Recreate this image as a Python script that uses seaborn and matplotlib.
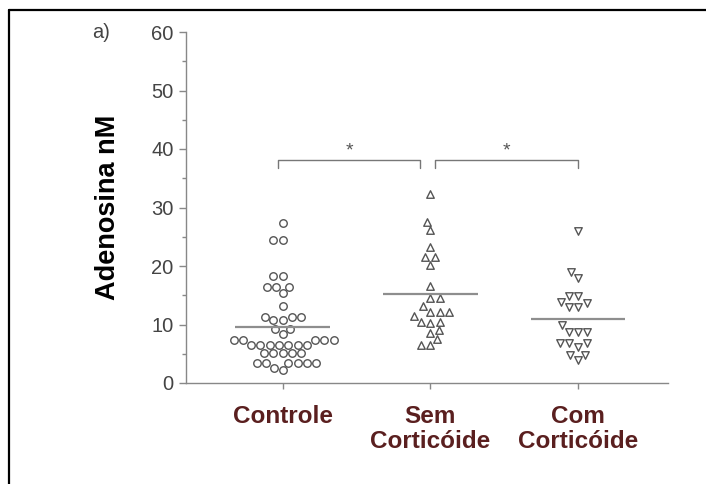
import numpy as np
import pandas as pd
import seaborn as sns
import matplotlib
matplotlib.use("Agg")
import matplotlib.pyplot as plt
from matplotlib.ticker import MultipleLocator
from matplotlib.lines import Line2D

categories = ["Controle", "Sem\nCorticóide", "Com\nCorticóide"]
controle = [27.3, 24.4, 24.4, 18.3, 18.3, 16.4, 16.4, 16.4, 15.3, 13.2,
            11.3, 11.3, 11.3, 10.8, 10.8, 9.2, 9.2, 8.3,
            7.3, 7.3, 7.3, 7.3, 7.3,
            6.5, 6.5, 6.5, 6.5, 6.5, 6.5, 6.5,
            5.1, 5.1, 5.1, 5.1, 5.1,
            3.4, 3.4, 3.4, 3.4, 3.4, 3.4, 2.5, 2.2]
sem = [32.3, 27.6, 26.2, 23.3, 21.5, 21.5, 20.2, 16.5, 14.5, 14.5, 13.2,
       12.2, 12.2, 12.2, 11.5, 10.5, 10.5, 10.3, 9.0, 8.5, 7.5, 6.5, 6.5]
com = [25.9, 18.9, 17.9, 14.9, 14.9, 13.9, 13.6, 13.0, 13.0, 9.9,
       8.8, 8.8, 8.8, 6.8, 6.8, 6.8, 6.2, 4.8, 4.8, 3.9]
means = [9.6, 15.2, 10.9]
markers = ["o", "^", "v"]
yticks = [0, 10, 20, 30, 40, 50, 60]
brackets = [(-0.03, 0.93, 38.1), (1.03, 2.0, 38.1)]
stars = ["*", "*"]

groups = [controle, sem, com]
df = pd.DataFrame({
    "grupo": np.concatenate([[c] * len(g) for c, g in zip(categories, groups)]),
    "valor": np.concatenate(groups),
})

sns.set_style("white")
plt.rcParams["font.family"] = ["Liberation Sans", "DejaVu Sans"]

fig = plt.figure(figsize=(7.06, 4.84), dpi=100)
ax = fig.add_axes([186 / 706, 1 - 383 / 484, (668 - 186) / 706, (383 - 32) / 484])

for cat, mk in zip(categories, markers):
    sub = df[df["grupo"] == cat]
    sns.swarmplot(data=sub, x="grupo", y="valor", order=categories,
                  marker=mk, size=5.4, color="white", edgecolor="#555555",
                  linewidth=1.0, ax=ax, warn_thresh=1)

pos = np.arange(len(categories))
ax.hlines(means, pos - 0.32, pos + 0.32, color="#8e8e8e", lw=1.6, zorder=5)

for (x1, x2, yb), s in zip(brackets, stars):
    ax.plot([x1, x1, x2, x2], [yb - 1.3, yb, yb, yb - 1.3], color="#777777",
            lw=1.0, clip_on=False)
    ax.text((x1 + x2) / 2, yb + 0.1, s, ha="center", va="bottom",
            fontsize=14, color="#555555")

ax.set_xlim(-0.655, 2.61)
ax.set_ylim(0, 60)
ax.set_yticks(yticks)
ax.yaxis.set_minor_locator(MultipleLocator(5))
ax.set_xlabel("")
ax.set_ylabel("Adenosina nM", fontsize=19.5, fontweight="bold", color="black")
ax.yaxis.set_label_coords(-0.135, 0.5)

for side in ["top", "right"]:
    ax.spines[side].set_visible(False)
for side in ["left", "bottom"]:
    ax.spines[side].set_color("#888888")
    ax.spines[side].set_linewidth(1.0)

ax.tick_params(axis="y", which="major", left=True, length=5, width=1,
               color="#888888", labelsize=14.5, labelcolor="#444444", pad=4)
ax.tick_params(axis="y", which="minor", left=True, length=3, width=1,
               color="#888888")
ax.tick_params(axis="x", which="major", bottom=True, length=4, width=1,
               color="#888888", pad=12)
for lbl in ax.get_xticklabels():
    lbl.set_fontsize(17.5)
    lbl.set_fontweight("bold")
    lbl.set_color("#5a1f1f")
    lbl.set_linespacing(1.1)

fig.text(101 / 706, 1 - 33 / 484, "a)", ha="center", va="center",
         fontsize=14.5, color="#444444")

fig.add_artist(Line2D([9 / 706, 1.0], [1 - 10 / 484, 1 - 10 / 484],
                      transform=fig.transFigure, color="black", lw=1.6))
fig.add_artist(Line2D([9 / 706, 9 / 706], [0.0, 1 - 10 / 484],
                      transform=fig.transFigure, color="black", lw=1.6))

fig.savefig("out.png", dpi=100)
